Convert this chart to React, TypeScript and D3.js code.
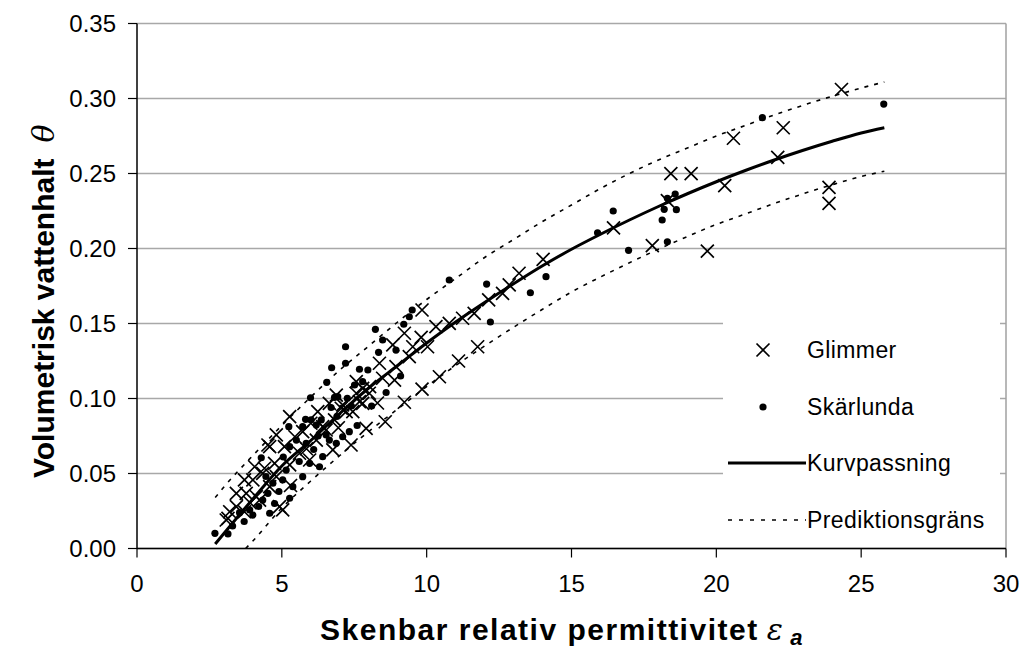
import React from "react";
import * as d3 from "d3";

// Glimmer (x markers): [permittivity, water content]
const glimmer: [number, number][] = [
  [24.32, 0.306], [22.31, 0.2805], [22.12, 0.2608], [20.59, 0.2735], [23.89, 0.2408],
  [23.89, 0.2301], [18.43, 0.2499], [19.13, 0.2499], [20.29, 0.2419], [18.31, 0.2319],
  [17.79, 0.2019], [19.69, 0.1983], [16.45, 0.2137],
  [14.02, 0.1928], [13.19, 0.1835], [12.85, 0.1757], [12.62, 0.1701], [12.14, 0.1657], [9.84, 0.159],
  [9.23, 0.1435], [9.81, 0.1408], [10.32, 0.1479], [10.78, 0.1501], [11.24, 0.1535], [11.64, 0.1568],
  [8.83, 0.1357], [9.52, 0.1345], [10.03, 0.1345], [9.4, 0.1279], [8.37, 0.1235], [8.94, 0.1212],
  [8.48, 0.1135], [8.89, 0.1123], [7.57, 0.1112], [8.03, 0.1079], [7.57, 0.1035], [6.64, 0.0968],
  [6.24, 0.0912], [7.05, 0.0935], [7.79, 0.0968], [5.27, 0.0879], [6.41, 0.0812], [7.45, 0.0912],
  [11.76, 0.1345], [11.1, 0.125], [10.44, 0.1145], [9.84, 0.1063], [9.23, 0.0975], [8.57, 0.0845],
  [7.91, 0.0801], [7.39, 0.069],
  [3.2, 0.0245], [3.43, 0.0368], [3.71, 0.0457], [4.06, 0.0545], [4.52, 0.069], [4.81, 0.0757],
  [4.0, 0.0457], [4.34, 0.0501], [4.75, 0.0568], [5.09, 0.0679], [5.72, 0.0779], [6.88, 0.1023],
  [7.79, 0.1068], [7.1, 0.0957], [7.68, 0.0979],
  [3.08, 0.019], [3.71, 0.0245], [4.12, 0.0345], [4.58, 0.0412], [4.92, 0.0279], [4.81, 0.0479],
  [5.27, 0.0557], [5.61, 0.0635], [6.19, 0.0723], [6.53, 0.079], [5.96, 0.059], [6.76, 0.0657],
  [6.82, 0.0857], [7.22, 0.0912], [8.02, 0.1035],
  [3.14, 0.0201], [3.43, 0.0279], [3.77, 0.0368], [4.4, 0.0535], [4.58, 0.0679], [5.03, 0.0257],
  [4.23, 0.0323], [5.3, 0.042], [5.45, 0.0745], [6.0, 0.0835], [6.95, 0.0805], [8.3, 0.097],
  [5.85, 0.0665], [3.9, 0.0305],
];

// Skärlunda (dots)
const skarlunda: [number, number][] = [
  [21.59, 0.2872], [25.78, 0.2963], [16.44, 0.225], [15.9, 0.2105], [16.97, 0.1988], [18.58, 0.2363],
  [18.2, 0.2261], [18.62, 0.2259], [18.13, 0.219], [18.31, 0.2045], [18.31, 0.2335],
  [12.07, 0.1763], [14.12, 0.1812], [13.58, 0.1705], [10.78, 0.179], [12.2, 0.151],
  [9.5, 0.159], [9.4, 0.1545], [9.21, 0.1495], [8.23, 0.1461], [8.48, 0.139], [8.94, 0.1323],
  [8.34, 0.1308], [7.2, 0.1345], [7.2, 0.1235], [6.72, 0.1205], [7.68, 0.1195], [7.97, 0.119],
  [6.55, 0.1108], [5.99, 0.1005], [6.93, 0.1012], [7.26, 0.1001], [7.51, 0.109], [7.79, 0.1112],
  [5.82, 0.0861], [5.24, 0.0812], [6.36, 0.0857],
  [2.69, 0.0101], [3.14, 0.0097], [3.54, 0.0239], [4.29, 0.0605], [5.27, 0.0335], [4.58, 0.0235],
  [4.0, 0.0223], [3.89, 0.0257], [4.34, 0.0323], [4.52, 0.0368], [4.69, 0.0435], [5.03, 0.0457],
  [5.15, 0.0523], [5.38, 0.0412], [5.72, 0.0479], [5.96, 0.0568], [6.3, 0.0545], [6.41, 0.0612],
  [6.64, 0.0723], [6.88, 0.0701], [5.84, 0.0701], [5.5, 0.0723], [5.27, 0.0679], [6.19, 0.0823],
  [6.53, 0.0757], [7.1, 0.0745], [7.33, 0.0779], [6.01, 0.0857], [5.72, 0.0812], [6.82, 0.1008],
  [3.3, 0.015], [4.2, 0.028], [4.9, 0.038], [5.6, 0.058], [6.1, 0.066], [7.6, 0.082],
  [8.1, 0.095], [8.6, 0.104], [9.1, 0.115], [6.9, 0.088], [7.4, 0.095],
  [3.7, 0.018], [4.45, 0.048], [5.05, 0.061], [6.25, 0.075], [6.7, 0.094], [4.75, 0.03],
];

// Kurvpassning (fitted curve)
const fit: [number, number][] = [
  [2.7, 0.003], [3, 0.01], [4, 0.033], [5, 0.055], [6, 0.072], [7, 0.09], [8, 0.107], [9, 0.122],
  [10, 0.137], [11, 0.151], [12, 0.164], [13, 0.1765], [14, 0.1885], [15, 0.1995], [16, 0.2095],
  [17, 0.219], [18, 0.228], [19, 0.2365], [20, 0.2445], [21, 0.252], [22, 0.259], [23, 0.2655],
  [24, 0.2715], [25, 0.277], [25.8, 0.2805],
];

// Prediktionsgräns, upper and lower
const upper: [number, number][] = [
  [2.7, 0.034], [3, 0.041], [4, 0.062], [5, 0.082], [6, 0.101], [7, 0.119], [8, 0.135], [9, 0.151],
  [10, 0.166], [11, 0.18], [12, 0.194], [13, 0.206], [14, 0.218], [15, 0.229], [16, 0.24],
  [17, 0.25], [18, 0.259], [19, 0.267], [20, 0.275], [21, 0.282], [22, 0.289], [23, 0.2955],
  [24, 0.3015], [25, 0.307], [25.8, 0.311],
];
const lower: [number, number][] = [
  [3.75, 0.0], [4, 0.005], [5, 0.027], [6, 0.045], [7, 0.062], [8, 0.078], [9, 0.093], [10, 0.108],
  [11, 0.122], [12, 0.135], [13, 0.1475], [14, 0.1595], [15, 0.171], [16, 0.181], [17, 0.1905],
  [18, 0.1995], [19, 0.208], [20, 0.216], [21, 0.223], [22, 0.23], [23, 0.2365], [24, 0.2425],
  [25, 0.248], [25.8, 0.2515],
];

const xTicks = [0, 5, 10, 15, 20, 25, 30];
const yTicks = [0, 0.05, 0.1, 0.15, 0.2, 0.25, 0.3, 0.35];
const legendLabels = ["Glimmer", "Skärlunda", "Kurvpassning", "Prediktionsgräns"];

const W = 1021;
const H = 654;
const left = 137, right = 1006, top = 23.5, bottom = 548.5;
const font = "'Liberation Sans', Arial, sans-serif";

export default function App() {
  const x = d3.scaleLinear().domain([0, 30]).range([left, right]);
  const y = d3.scaleLinear().domain([0, 0.35]).range([bottom, top]);
  const line = d3
    .line<[number, number]>()
    .x((d) => x(d[0]))
    .y((d) => y(d[1]))
    .curve(d3.curveMonotoneX);

  const cross = (cx: number, cy: number, s = 6.5) =>
    `M${cx - s},${cy - s}L${cx + s},${cy + s}M${cx - s},${cy + s}L${cx + s},${cy - s}`;

  const legY = [350, 407, 463, 520];

  return (
    <svg
      width={W}
      height={H}
      style={{ position: "absolute", left: 0, top: 0, background: "#fff" }}
      fontFamily={font}
    >
      <defs>
        <clipPath id="plot">
          <rect x={left} y={top} width={right - left} height={bottom - top} />
        </clipPath>
      </defs>

      {/* grid */}
      {yTicks.map((t) => (
        <line key={t} x1={left} x2={right} y1={y(t)} y2={y(t)} stroke="#a8a8a8" strokeWidth={1.5} />
      ))}
      <line x1={right} x2={right} y1={top} y2={bottom} stroke="#a0a0a0" strokeWidth={1.5} />

      {/* legend background */}
      <rect x={723} y={322} width={277} height={223} fill="#fff" />

      {/* data */}
      <g clipPath="url(#plot)">
        <path d={line(upper) || ""} fill="none" stroke="#000" strokeWidth={1.6} strokeDasharray="4 6" />
        <path d={line(lower) || ""} fill="none" stroke="#000" strokeWidth={1.6} strokeDasharray="4 6" />
        {glimmer.map((d, i) => (
          <path key={"g" + i} d={cross(x(d[0]), y(d[1]))} stroke="#000" strokeWidth={1.7} fill="none" />
        ))}
        {skarlunda.map((d, i) => (
          <circle key={"s" + i} cx={x(d[0])} cy={y(d[1])} r={3.6} fill="#000" />
        ))}
        <path d={line(fit) || ""} fill="none" stroke="#000" strokeWidth={3} />
      </g>

      {/* axes */}
      <line x1={left} x2={left} y1={top} y2={bottom} stroke="#000" strokeWidth={1.5} />
      <line x1={left} x2={right} y1={bottom} y2={bottom} stroke="#000" strokeWidth={1.5} />
      {yTicks.map((t) => (
        <g key={"yt" + t}>
          <line x1={left - 9} x2={left} y1={y(t)} y2={y(t)} stroke="#000" strokeWidth={1.2} />
          <text x={116} y={y(t)} dy="0.35em" textAnchor="end" fontSize={24}>
            {d3.format(".2f")(t)}
          </text>
        </g>
      ))}
      {xTicks.map((t) => (
        <g key={"xt" + t}>
          <line x1={x(t)} x2={x(t)} y1={bottom} y2={bottom + 9} stroke="#000" strokeWidth={1.2} />
          <text x={x(t)} y={592} textAnchor="middle" fontSize={24}>
            {t}
          </text>
        </g>
      ))}

      {/* axis titles */}
      <text x={320} y={640} fontSize={30} fontWeight="bold" letterSpacing={1.5}>
        Skenbar relativ permittivitet
        <tspan dx={8} fontStyle="italic" fontWeight="normal" fontFamily="'DejaVu Serif', serif">
          ε
        </tspan>
        <tspan dx={6} dy={5} fontSize={22} fontStyle="italic">
          a
        </tspan>
      </text>
      <text transform="translate(54,478) rotate(-90)" fontSize={30} fontWeight="bold">
        Volumetrisk vattenhalt
        <tspan dx={16} fontStyle="italic" fontWeight="normal" fontFamily="'DejaVu Serif', serif">
          θ
        </tspan>
      </text>

      {/* legend */}
      <path d={cross(763, legY[0])} stroke="#000" strokeWidth={1.7} fill="none" />
      <circle cx={763} cy={legY[1]} r={3.6} fill="#000" />
      <line x1={728} x2={806} y1={legY[2]} y2={legY[2]} stroke="#000" strokeWidth={3} />
      <line x1={728} x2={806} y1={legY[3]} y2={legY[3]} stroke="#000" strokeWidth={1.6} strokeDasharray="4 7" />
      {legendLabels.map((l, i) => (
        <text key={l} x={807} y={legY[i]} dy="0.35em" fontSize={23} letterSpacing={0.4}>
          {l}
        </text>
      ))}
    </svg>
  );
}
